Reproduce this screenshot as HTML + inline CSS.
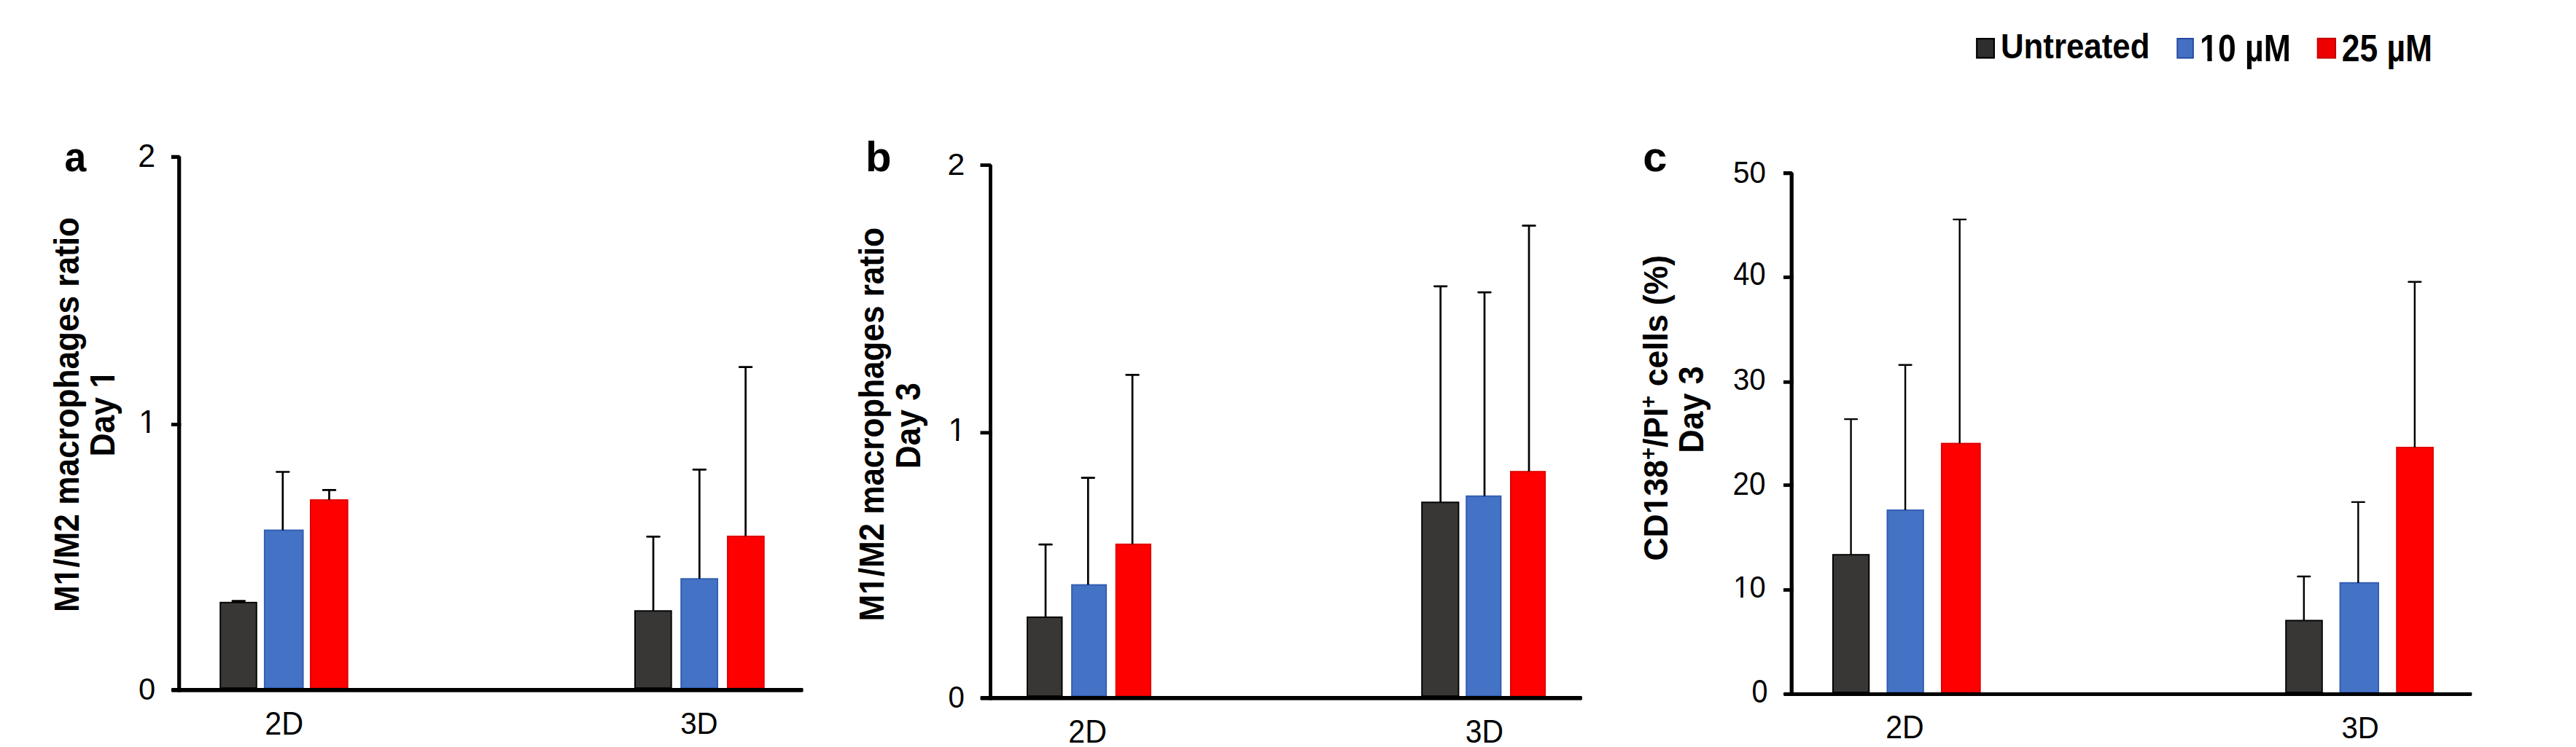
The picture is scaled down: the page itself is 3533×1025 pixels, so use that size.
<!DOCTYPE html>
<html><head><meta charset="utf-8"><title>M1/M2 macrophages ratio and CD138+/PI+ cells</title>
<style>
html,body{margin:0;padding:0;background:#fff;}
body{width:3533px;height:1025px;overflow:hidden;}
svg{display:block;}
text{font-family:"Liberation Sans", Arial, sans-serif;fill:#000;}
</style></head>
<body>
<svg width="3533" height="1025" viewBox="0 0 3533 1025">
<rect x="0" y="0" width="3533" height="1025" fill="#fff"/>
<g transform="translate(88.39,234.64) scale(0.9475,1)"><text font-size="56.56" font-weight="bold">a</text></g>
<g transform="translate(189.36,229.30) scale(0.9646,1)"><text font-size="44.43" font-weight="normal">2</text></g>
<g transform="translate(190.35,593.80) scale(0.9913,1)"><text font-size="44.06" font-weight="normal">1</text><rect x="2.14" y="-4.05" width="8.92" height="5.55" fill="#fff"/><rect x="14.98" y="-4.05" width="8.43" height="5.55" fill="#fff"/></g>
<g transform="translate(190.03,960.30) scale(0.9662,1)"><text font-size="43.14" font-weight="normal">0</text></g>
<rect x="302.20" y="826.80" width="49.60" height="117.30" fill="#393735" stroke="#050505" stroke-width="2.0"/>
<rect x="362.90" y="727.60" width="52.70" height="216.50" fill="#4472c4" stroke="#335fb5" stroke-width="2.0"/>
<rect x="426.00" y="686.10" width="50.70" height="258.00" fill="#ff0000" stroke="#e00000" stroke-width="2.0"/>
<rect x="870.90" y="838.30" width="49.80" height="105.80" fill="#393735" stroke="#050505" stroke-width="2.0"/>
<rect x="934.20" y="794.30" width="49.80" height="149.80" fill="#4472c4" stroke="#335fb5" stroke-width="2.0"/>
<rect x="998.00" y="736.00" width="49.70" height="208.10" fill="#ff0000" stroke="#e00000" stroke-width="2.0"/>
<line x1="327.30" y1="826.50" x2="327.30" y2="824.60" stroke="#000" stroke-width="2.7"/>
<line x1="318.90" y1="824.60" x2="335.70" y2="824.60" stroke="#000" stroke-width="2.7" stroke-linecap="round"/>
<line x1="387.80" y1="727.50" x2="387.80" y2="647.50" stroke="#000" stroke-width="2.7"/>
<line x1="379.40" y1="647.50" x2="396.20" y2="647.50" stroke="#000" stroke-width="2.7" stroke-linecap="round"/>
<line x1="451.50" y1="686.00" x2="451.50" y2="672.40" stroke="#000" stroke-width="2.7"/>
<line x1="443.10" y1="672.40" x2="459.90" y2="672.40" stroke="#000" stroke-width="2.7" stroke-linecap="round"/>
<line x1="896.00" y1="838.00" x2="896.00" y2="736.30" stroke="#000" stroke-width="2.7"/>
<line x1="887.60" y1="736.30" x2="904.40" y2="736.30" stroke="#000" stroke-width="2.7" stroke-linecap="round"/>
<line x1="959.30" y1="794.00" x2="959.30" y2="644.30" stroke="#000" stroke-width="2.7"/>
<line x1="950.90" y1="644.30" x2="967.70" y2="644.30" stroke="#000" stroke-width="2.7" stroke-linecap="round"/>
<line x1="1022.60" y1="736.00" x2="1022.60" y2="503.70" stroke="#000" stroke-width="2.7"/>
<line x1="1014.20" y1="503.70" x2="1031.00" y2="503.70" stroke="#000" stroke-width="2.7" stroke-linecap="round"/>
<rect x="234.90" y="944.10" width="866.70" height="5.60" fill="#000" rx="1.4"/>
<path d="M234.90,215.30 L245.70,215.30 L245.70,949.70" fill="none" stroke="#000" stroke-width="5.20" stroke-linejoin="bevel"/>
<rect x="234.90" y="580.10" width="13.40" height="4.80" fill="#000" />
<g transform="translate(363.33,1007.90) scale(0.9461,1)"><text font-size="43.71" font-weight="normal">2D</text></g>
<g transform="translate(933.19,1007.40) scale(0.9392,1)"><text font-size="42.86" font-weight="normal">3D</text></g>
<g transform="translate(107.80,839.97) rotate(-90) scale(0.9174,1)"><text font-size="48.12" font-weight="bold">M1/M2 macrophages ratio</text><rect x="41.98" y="-5.68" width="9.31" height="7.18" fill="#fff"/><rect x="57.93" y="-5.68" width="8.63" height="7.18" fill="#fff"/></g>
<g transform="translate(157.20,626.60) rotate(-90) scale(0.9371,1)"><text font-size="47.54" font-weight="bold">Day 1</text><rect x="102.29" y="-5.61" width="9.20" height="7.11" fill="#fff"/><rect x="118.05" y="-5.61" width="8.53" height="7.11" fill="#fff"/></g>
<g transform="translate(1187.12,234.60) scale(1.0195,1)"><text font-size="57.10" font-weight="bold">b</text></g>
<g transform="translate(1299.56,240.00) scale(0.9934,1)"><text font-size="43.14" font-weight="normal">2</text></g>
<g transform="translate(1300.39,604.80) scale(0.9724,1)"><text font-size="44.49" font-weight="normal">1</text><rect x="2.17" y="-4.09" width="9.00" height="5.59" fill="#fff"/><rect x="15.13" y="-4.09" width="8.51" height="5.59" fill="#fff"/></g>
<g transform="translate(1300.39,971.40) scale(0.9290,1)"><text font-size="43.29" font-weight="normal">0</text></g>
<rect x="1409.00" y="846.90" width="47.50" height="108.20" fill="#393735" stroke="#050505" stroke-width="2.0"/>
<rect x="1470.10" y="802.60" width="47.00" height="152.50" fill="#4472c4" stroke="#335fb5" stroke-width="2.0"/>
<rect x="1530.70" y="746.90" width="47.30" height="208.20" fill="#ff0000" stroke="#e00000" stroke-width="2.0"/>
<rect x="1950.20" y="689.30" width="50.20" height="265.80" fill="#393735" stroke="#050505" stroke-width="2.0"/>
<rect x="2011.20" y="680.80" width="47.20" height="274.30" fill="#4472c4" stroke="#335fb5" stroke-width="2.0"/>
<rect x="2072.00" y="647.20" width="47.10" height="307.90" fill="#ff0000" stroke="#e00000" stroke-width="2.0"/>
<line x1="1434.00" y1="847.00" x2="1434.00" y2="747.20" stroke="#000" stroke-width="2.7"/>
<line x1="1425.60" y1="747.20" x2="1442.40" y2="747.20" stroke="#000" stroke-width="2.7" stroke-linecap="round"/>
<line x1="1492.30" y1="802.50" x2="1492.30" y2="655.70" stroke="#000" stroke-width="2.7"/>
<line x1="1483.90" y1="655.70" x2="1500.70" y2="655.70" stroke="#000" stroke-width="2.7" stroke-linecap="round"/>
<line x1="1553.10" y1="747.00" x2="1553.10" y2="514.40" stroke="#000" stroke-width="2.7"/>
<line x1="1544.70" y1="514.40" x2="1561.50" y2="514.40" stroke="#000" stroke-width="2.7" stroke-linecap="round"/>
<line x1="1975.70" y1="689.00" x2="1975.70" y2="392.80" stroke="#000" stroke-width="2.7"/>
<line x1="1967.30" y1="392.80" x2="1984.10" y2="392.80" stroke="#000" stroke-width="2.7" stroke-linecap="round"/>
<line x1="2036.00" y1="681.00" x2="2036.00" y2="401.10" stroke="#000" stroke-width="2.7"/>
<line x1="2027.60" y1="401.10" x2="2044.40" y2="401.10" stroke="#000" stroke-width="2.7" stroke-linecap="round"/>
<line x1="2097.00" y1="647.00" x2="2097.00" y2="309.70" stroke="#000" stroke-width="2.7"/>
<line x1="2088.60" y1="309.70" x2="2105.40" y2="309.70" stroke="#000" stroke-width="2.7" stroke-linecap="round"/>
<rect x="1344.50" y="955.10" width="825.40" height="5.60" fill="#000" rx="1.4"/>
<path d="M1344.50,226.70 L1358.50,226.70 L1358.50,960.70" fill="none" stroke="#000" stroke-width="4.80" stroke-linejoin="bevel"/>
<rect x="1344.50" y="591.40" width="16.40" height="4.80" fill="#000" />
<g transform="translate(1465.24,1019.00) scale(0.9300,1)"><text font-size="44.29" font-weight="normal">2D</text></g>
<g transform="translate(2009.77,1018.70) scale(0.9312,1)"><text font-size="43.86" font-weight="normal">3D</text></g>
<g transform="translate(1211.80,852.46) rotate(-90) scale(0.9261,1)"><text font-size="47.54" font-weight="bold">M1/M2 macrophages ratio</text><rect x="41.47" y="-5.61" width="9.20" height="7.11" fill="#fff"/><rect x="57.23" y="-5.61" width="8.53" height="7.11" fill="#fff"/></g>
<g transform="translate(1262.10,643.18) rotate(-90) scale(0.9196,1)"><text font-size="48.12" font-weight="bold">Day 3</text></g>
<g transform="translate(2253.32,234.70) scale(1.0550,1)"><text font-size="56.48" font-weight="bold">c</text></g>
<g transform="translate(2376.98,251.00) scale(0.9455,1)"><text font-size="42.71" font-weight="normal">50</text></g>
<g transform="translate(2377.30,391.40) scale(0.9107,1)"><text font-size="43.71" font-weight="normal">40</text></g>
<g transform="translate(2377.00,535.20) scale(0.9263,1)"><text font-size="43.29" font-weight="normal">30</text></g>
<g transform="translate(2376.58,678.90) scale(0.9262,1)"><text font-size="43.71" font-weight="normal">20</text></g>
<g transform="translate(2377.21,820.20) scale(0.9248,1)"><text font-size="43.14" font-weight="normal">10</text><rect x="2.09" y="-3.97" width="8.74" height="5.47" fill="#fff"/><rect x="14.67" y="-3.97" width="8.27" height="5.47" fill="#fff"/></g>
<g transform="translate(2402.42,963.50) scale(0.9084,1)"><text font-size="43.57" font-weight="normal">0</text></g>
<rect x="2513.90" y="761.20" width="49.40" height="188.90" fill="#393735" stroke="#050505" stroke-width="2.0"/>
<rect x="2588.50" y="700.10" width="49.40" height="250.00" fill="#4472c4" stroke="#335fb5" stroke-width="2.0"/>
<rect x="2663.00" y="608.60" width="52.70" height="341.50" fill="#ff0000" stroke="#e00000" stroke-width="2.0"/>
<rect x="3135.20" y="851.50" width="49.60" height="98.60" fill="#393735" stroke="#050505" stroke-width="2.0"/>
<rect x="3209.50" y="799.80" width="52.50" height="150.30" fill="#4472c4" stroke="#335fb5" stroke-width="2.0"/>
<rect x="3287.20" y="614.10" width="49.70" height="336.00" fill="#ff0000" stroke="#e00000" stroke-width="2.0"/>
<line x1="2538.60" y1="761.00" x2="2538.60" y2="575.10" stroke="#000" stroke-width="2.4"/>
<line x1="2530.20" y1="575.10" x2="2547.00" y2="575.10" stroke="#000" stroke-width="2.4" stroke-linecap="round"/>
<line x1="2613.10" y1="700.00" x2="2613.10" y2="500.70" stroke="#000" stroke-width="2.4"/>
<line x1="2604.70" y1="500.70" x2="2621.50" y2="500.70" stroke="#000" stroke-width="2.4" stroke-linecap="round"/>
<line x1="2687.70" y1="608.50" x2="2687.70" y2="301.10" stroke="#000" stroke-width="2.4"/>
<line x1="2679.30" y1="301.10" x2="2696.10" y2="301.10" stroke="#000" stroke-width="2.4" stroke-linecap="round"/>
<line x1="3159.80" y1="851.50" x2="3159.80" y2="791.00" stroke="#000" stroke-width="2.4"/>
<line x1="3151.40" y1="791.00" x2="3168.20" y2="791.00" stroke="#000" stroke-width="2.4" stroke-linecap="round"/>
<line x1="3234.30" y1="800.00" x2="3234.30" y2="688.90" stroke="#000" stroke-width="2.4"/>
<line x1="3225.90" y1="688.90" x2="3242.70" y2="688.90" stroke="#000" stroke-width="2.4" stroke-linecap="round"/>
<line x1="3311.80" y1="614.00" x2="3311.80" y2="386.70" stroke="#000" stroke-width="2.4"/>
<line x1="3303.40" y1="386.70" x2="3320.20" y2="386.70" stroke="#000" stroke-width="2.4" stroke-linecap="round"/>
<rect x="2446.00" y="950.10" width="944.30" height="4.80" fill="#000" rx="1.4"/>
<path d="M2446.00,237.60 L2457.25,237.60 L2457.25,954.90" fill="none" stroke="#000" stroke-width="5.30" stroke-linejoin="bevel"/>
<rect x="2446.00" y="378.10" width="13.90" height="4.80" fill="#000" />
<rect x="2446.00" y="521.90" width="13.90" height="4.80" fill="#000" />
<rect x="2446.00" y="663.30" width="13.90" height="4.80" fill="#000" />
<rect x="2446.00" y="807.10" width="13.90" height="4.80" fill="#000" />
<g transform="translate(2586.24,1013.30) scale(0.9433,1)"><text font-size="43.57" font-weight="normal">2D</text></g>
<g transform="translate(3211.49,1013.00) scale(0.9310,1)"><text font-size="43.14" font-weight="normal">3D</text></g>
<g transform="translate(2286.80,769.48) rotate(-90) scale(0.9499,1)"><text font-size="46.81" font-weight="bold">CD138<tspan font-size="30.71" dy="-15.45">+</tspan><tspan dy="15.45">/PI</tspan><tspan font-size="30.71" dy="-15.45">+</tspan><tspan dy="15.45"> cells (%)</tspan></text><rect x="69.45" y="-5.52" width="9.07" height="7.02" fill="#fff"/><rect x="84.97" y="-5.52" width="8.41" height="7.02" fill="#fff"/></g>
<g transform="translate(2335.70,621.81) rotate(-90) scale(0.9358,1)"><text font-size="47.83" font-weight="bold">Day 3</text></g>
<rect x="2711.20" y="53.10" width="23.70" height="26.30" fill="#2f2d2d" stroke="#000" stroke-width="2.2"/>
<g transform="translate(2743.97,80.00) scale(0.9101,1)"><text font-size="48.14" font-weight="bold">Untreated</text></g>
<rect x="2986.20" y="52.90" width="21.80" height="26.70" fill="#4470c4" stroke="#24469c" stroke-width="1.8"/>
<g transform="translate(3017.08,83.80) scale(0.8601,1)"><text font-size="51.88" font-weight="bold">10 µM</text><rect x="2.09" y="-6.12" width="9.99" height="7.62" fill="#fff"/><rect x="19.25" y="-6.12" width="9.27" height="7.62" fill="#fff"/></g>
<rect x="3178.60" y="52.70" width="24.50" height="26.90" fill="#ee0000" stroke="#c20000" stroke-width="1.8"/>
<g transform="translate(3211.85,83.80) scale(0.8546,1)"><text font-size="51.88" font-weight="bold">25 µM</text></g>
</svg>
</body></html>
